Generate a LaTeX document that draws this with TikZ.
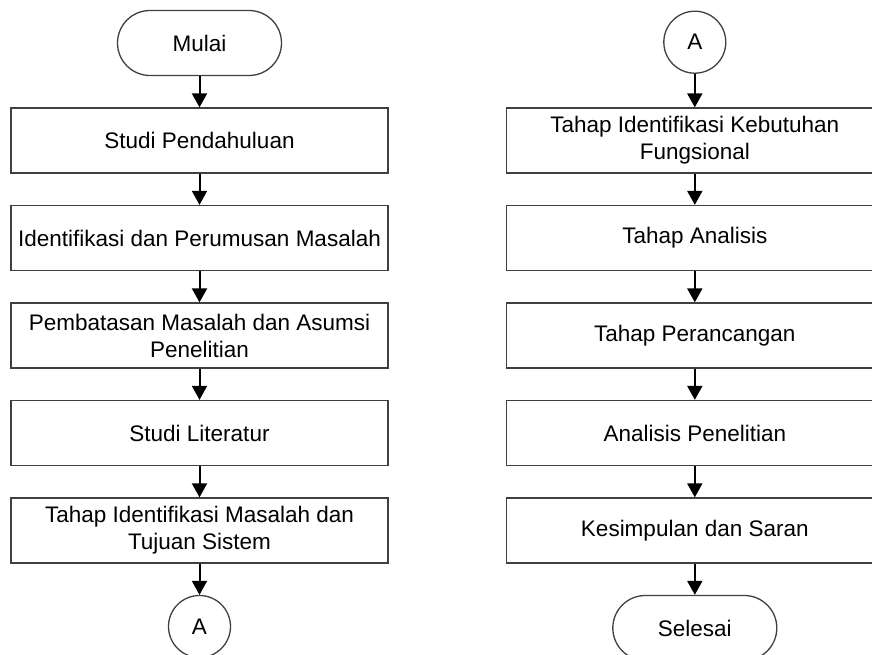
\documentclass[tikz,border=0pt]{standalone}
\usepackage{fontspec}
\setmainfont{Liberation Sans}
\usetikzlibrary{positioning}
\usetikzlibrary{arrows.meta}

\begin{document}
\begin{tikzpicture}[x=1pt, y=-1pt, node distance=31.2pt,
    font=\fontsize{22.5}{27}\selectfont,
    prosesbox/.style={draw=black!75, line width=1.3pt, rectangle, minimum width=377pt, minimum height=65pt, align=center, inner sep=0pt},
    terminal/.style={draw=black!75, line width=1.3pt, rectangle, rounded corners=32.5pt, minimum width=164pt, minimum height=65pt, inner sep=0pt},
    konektor/.style={draw=black!75, line width=1.3pt, circle, minimum size=62pt, inner sep=0pt},
    panah/.style={-{Triangle[length=14pt,width=15pt]}, line width=2pt}]
            \useasboundingbox (0,0) rectangle (872,655);
            % Kolom kiri: alur penelitian awal
            \node[terminal] (mulai) at (199.5,43) {Mulai};
            \node[prosesbox, below=of mulai] (pendahuluan) {Studi Pendahuluan};
            \node[prosesbox, below=of pendahuluan] (perumusan) {Identifikasi dan Perumusan Masalah};
            \node[prosesbox, below=of perumusan] (pembatasan) {Pembatasan Masalah dan Asumsi\\Penelitian};
            \node[prosesbox, below=of pembatasan] (literatur) {Studi Literatur};
            \node[prosesbox, below=of literatur] (tujuan) {Tahap Identifikasi Masalah dan\\Tujuan Sistem};
            \node[konektor, below=of tujuan] (konA) {A};

            % Kolom kanan: lanjutan dari konektor A
            \node[prosesbox, right=117pt of pendahuluan] (kebutuhan) {Tahap Identifikasi Kebutuhan\\Fungsional};
            \node[konektor, above=33.5pt of kebutuhan] (konB) {A};
            \node[prosesbox, right=117pt of perumusan] (analisis) {Tahap Analisis};
            \node[prosesbox, right=117pt of pembatasan] (perancangan) {Tahap Perancangan};
            \node[prosesbox, right=117pt of literatur] (hasil) {Analisis Penelitian};
            \node[prosesbox, right=117pt of tujuan] (kesimpulan) {Kesimpulan dan Saran};
            \node[terminal, below=of kesimpulan] (selesai) {Selesai};

            \draw[panah] (mulai) -- (pendahuluan);
            \draw[panah] (pendahuluan) -- (perumusan);
            \draw[panah] (perumusan) -- (pembatasan);
            \draw[panah] (pembatasan) -- (literatur);
            \draw[panah] (literatur) -- (tujuan);
            \draw[panah] (tujuan) -- (konA);

            \draw[panah] (konB) -- (kebutuhan);
            \draw[panah] (kebutuhan) -- (analisis);
            \draw[panah] (analisis) -- (perancangan);
            \draw[panah] (perancangan) -- (hasil);
            \draw[panah] (hasil) -- (kesimpulan);
            \draw[panah] (kesimpulan) -- (selesai);
        \end{tikzpicture}
\end{document}
